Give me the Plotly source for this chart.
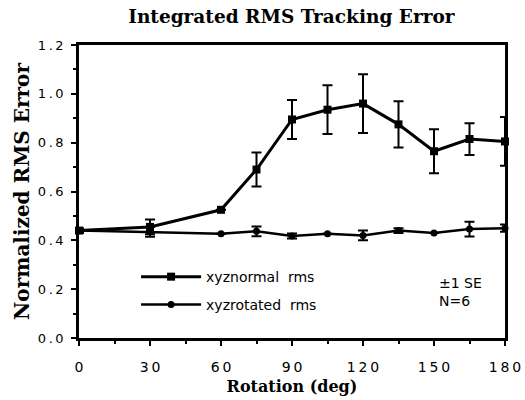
import plotly.graph_objects as go

rotation = [0, 30, 60, 75, 90, 105, 120, 135, 150, 165, 180]
normal_rms = [0.44, 0.455, 0.525, 0.69, 0.895, 0.935, 0.96, 0.875, 0.765, 0.815, 0.805]
normal_se = [0.01, 0.03, 0.0, 0.07, 0.08, 0.10, 0.12, 0.095, 0.09, 0.065, 0.10]
rotated_rms = [0.44, 0.435, 0.427, 0.437, 0.418, 0.427, 0.42, 0.44, 0.43, 0.446, 0.45]
rotated_se = [0.0, 0.02, 0.0, 0.02, 0.01, 0.0, 0.02, 0.01, 0.0, 0.03, 0.015]

x_ticks = [0, 30, 60, 90, 120, 150, 180]
x_tick_text = ["0", "3\u20090", "6\u20090", "9\u20090", "1\u20092\u20090", "1\u20095\u20090", "1\u20098\u20090"]
y_ticks = [0.0, 0.2, 0.4, 0.6, 0.8, 1.0, 1.2]
y_tick_text = ["0\u2009.\u20090", "0\u2009.\u20092", "0\u2009.\u20094", "0\u2009.\u20096",
               "0\u2009.\u20098", "1\u2009.\u20090", "1\u2009.\u20092"]

fig = go.Figure()
fig.add_trace(go.Scatter(
    x=rotation, y=normal_rms, name="xyznormal  rms",
    mode="lines+markers",
    line=dict(color="black", width=3),
    marker=dict(symbol="square", size=8, color="black"),
    error_y=dict(type="data", array=normal_se, color="black", thickness=2, width=5),
    cliponaxis=False, legend="legend",
))
fig.add_trace(go.Scatter(
    x=rotation, y=rotated_rms, name="xyzrotated  rms",
    mode="lines+markers",
    line=dict(color="black", width=2.5),
    marker=dict(symbol="circle", size=7, color="black"),
    error_y=dict(type="data", array=rotated_se, color="black", thickness=2, width=5),
    cliponaxis=False, legend="legend2",
))

fig.add_annotation(
    x=0.84, y=0.157, xref="paper", yref="paper", xanchor="left", yanchor="middle",
    text="±1 SE<br>N=6", showarrow=False, align="left",
    font=dict(family="DejaVu Sans", size=14, color="black"),
)

legend_common = dict(xanchor="left", yanchor="middle", bgcolor="rgba(0,0,0,0)",
                     font=dict(family="DejaVu Sans", size=14, color="black"),
                     itemwidth=60)
fig.update_layout(
    width=525, height=400,
    margin=dict(l=79, r=20, t=45, b=62, autoexpand=False),
    paper_bgcolor="white", plot_bgcolor="white",
    title=dict(text="<b>Integrated RMS Tracking Error</b>", x=0.555, xanchor="center",
               y=0.9575, yanchor="middle",
               font=dict(family="DejaVu Serif", size=18.5, color="black")),
    showlegend=True,
    legend=dict(x=0.134, y=0.208, **legend_common),
    legend2=dict(x=0.134, y=0.113, **legend_common),
    font=dict(family="DejaVu Sans", color="black"),
    hovermode=False,
)
fig.update_xaxes(
    range=[0, 180], tickvals=x_ticks, ticktext=x_tick_text, ticks="outside", ticklen=5, tickwidth=2,
    tickcolor="black", showline=True, linecolor="black", linewidth=2.5, mirror=True,
    showgrid=False, zeroline=False, ticklabelstandoff=9, automargin=False,
    tickfont=dict(family="DejaVu Sans", size=14, color="black"),
    minor=dict(dtick=15, ticks="outside", ticklen=3, tickcolor="black", tickwidth=2),
    title=dict(text="<b>Rotation (deg)</b>", standoff=8,
               font=dict(family="DejaVu Serif", size=16, color="black")),
)
fig.update_yaxes(
    range=[0, 1.2], tickvals=y_ticks, ticktext=y_tick_text, ticks="outside", ticklen=5, tickwidth=2,
    tickcolor="black", showline=True, linecolor="black", linewidth=2.5, mirror=True,
    showgrid=False, zeroline=False, ticklabelstandoff=5, automargin=False,
    tickfont=dict(family="DejaVu Sans", size=13, color="black"),
    minor=dict(dtick=0.1, ticks="outside", ticklen=3, tickcolor="black", tickwidth=2),
    title=dict(text="<b>Normalized RMS Error</b>", standoff=3,
               font=dict(family="DejaVu Serif", size=20, color="black")),
)

fig.write_html("out.html", config={"displayModeBar": False},
               post_script="document.body.style.margin='0';")
